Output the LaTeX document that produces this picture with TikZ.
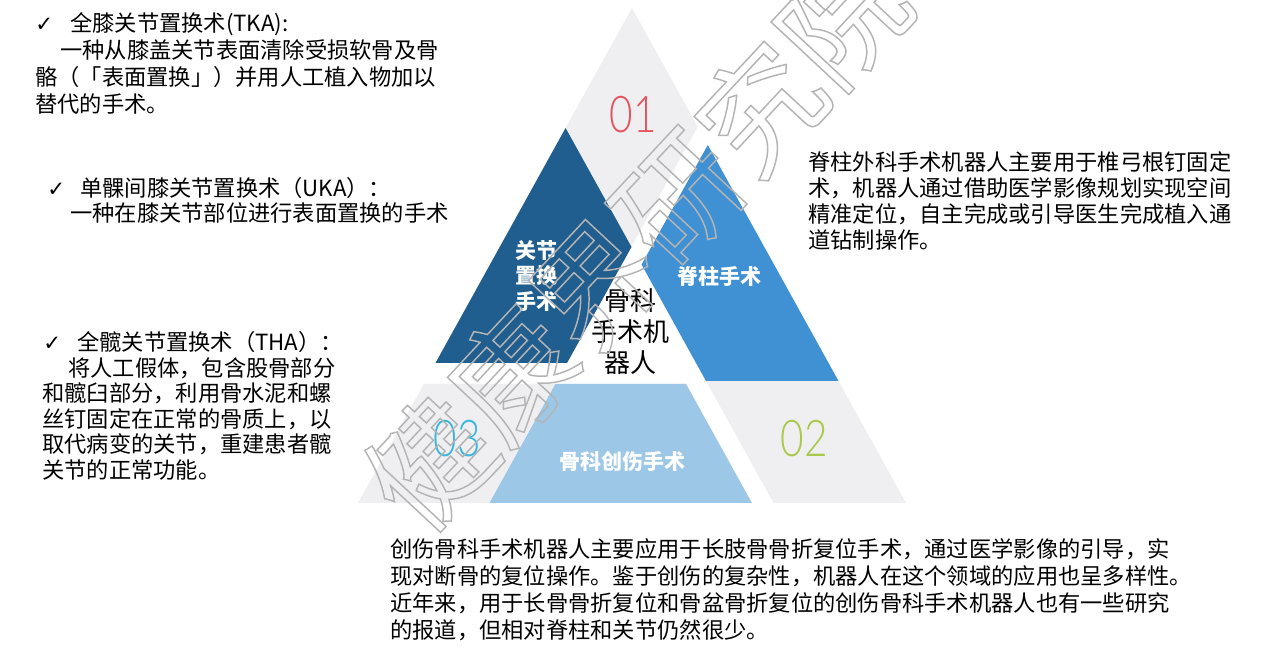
\documentclass[tikz,border=0pt]{standalone}
\usepackage{fontspec}
\setmainfont{Noto Sans CJK SC}
\newfontfamily\chk{DejaVu Sans}
\newfontfamily\numfont[FakeStretch=0.8]{Lato Light}
\definecolor{gbg}{HTML}{EFEFF2}
\definecolor{dkb}{HTML}{1F5E8E}
\definecolor{mdb}{HTML}{3F91D3}
\definecolor{ltb}{HTML}{9DC7E7}
\definecolor{cred}{HTML}{E5535E}
\definecolor{cgrn}{HTML}{A9C94B}
\definecolor{ccyn}{HTML}{38B6DD}
\definecolor{wmk}{HTML}{B4B4B4}
\newcommand{\ck}[1]{\makebox[#1][l]{\chk\fontsize{16pt}{16pt}\selectfont ✓}}
\begin{document}
\begin{tikzpicture}[x=0.75pt,y=-0.75pt,
  txt/.style={anchor=base west,inner sep=0pt,font=\fontsize{16.7pt}{20pt}\selectfont},
  lbl/.style={text=white,align=center,inner sep=0pt,font=\fontsize{15.75pt}{18.5pt}\selectfont\bfseries},
  ctr/.style={text=black,align=center,inner sep=0pt,font=\fontsize{19.5pt}{23.25pt}\selectfont},
  num/.style={inner sep=0pt,font=\numfont\fontsize{38pt}{38pt}\selectfont}]
\useasboundingbox (0,0) rectangle (1268,648);
\fill[white] (0,0) rectangle (1268,648);
% gray regions
\fill[gbg] (632,8) -- (435.5,363) -- (567,363) -- (697.7,126.8) -- cycle;
\fill[gbg] (906,503) -- (707.8,145) -- (641.6,264.6) -- (773.6,503) -- cycle;
\fill[gbg] (358,503) -- (423.9,384) -- (686,384) -- (751.9,503) -- cycle;
% coloured shapes
\fill[dkb] (565.6,128) -- (435.5,363) -- (567,363) -- (631.5,247) -- cycle;
\fill[mdb] (707.8,145) -- (641.6,264.6) -- (706,381) -- (838.5,381) -- cycle;
\fill[ltb] (555.4,384) -- (686,384) -- (751.9,503) -- (489.5,503) -- cycle;
% labels in shapes
\node[lbl,font=\fontsize{15.75pt}{19pt}\selectfont\bfseries] (jt) at (536,276) {关节\\置换\\手术};
\node[lbl] (jz) at (719,276) {脊柱手术};
\node[lbl] (cs) at (622,462) {骨科创伤手术};
\node[ctr] (gk) at (630,332) {骨科\\手术机\\器人};
% numbers
\node[num,text=cred] (n1) at (633,115) {01};
\node[num,text=cgrn] (n2) at (804,439) {02};
\node[num,text=ccyn] (n3) at (457,439) {03};
% TKA
\node[txt] (t1) at (35,31.5) {\ck{26.25pt}全膝关节置换术(TKA):};
\node[txt] (t2) at (60,58.5) {一种从膝盖关节表面清除受损软骨及骨};
\node[txt] (t3) at (35,85.5) {骼（「表面置换」）并用人工植入物加以};
\node[txt] (t4) at (35,112.5) {替代的手术。};
% UKA
\node[txt] (u1) at (47,196.5) {\ck{24.75pt}单髁间膝关节置换术（UKA）：};
\node[txt] (u2) at (70,221.5) {一种在膝关节部位进行表面置换的手术};
% THA
\node[txt] (h1) at (43,350.5) {\ck{25.5pt}全髋关节置换术（THA）：};
\node[txt] (h2) at (68,376.5) {将人工假体，包含股骨部分};
\node[txt] (h3) at (42,401.5) {和髋臼部分，利用骨水泥和螺};
\node[txt] (h4) at (42,427.5) {丝钉固定在正常的骨质上，以};
\node[txt] (h5) at (42,452.5) {取代病变的关节，重建患者髋};
\node[txt] (h6) at (42,478.5) {关节的正常功能。};
% right text
\node[txt] (r1) at (808,170.5) {脊柱外科手术机器人主要用于椎弓根钉固定};
\node[txt] (r2) at (808,196.5) {术，机器人通过借助医学影像规划实现空间};
\node[txt] (r3) at (808,222.5) {精准定位，自主完成或引导医生完成植入通};
\node[txt] (r4) at (808,248.5) {道钻制操作。};
% bottom text
\node[txt] (b1) at (390,557.5) {创伤骨科手术机器人主要应用于长肢骨骨折复位手术，通过医学影像的引导，实};
\node[txt] (b2) at (390,584.5) {现对断骨的复位操作。鉴于创伤的复杂性，机器人在这个领域的应用也呈多样性。};
\node[txt] (b3) at (390,611.5) {近年来，用于长骨骨折复位和骨盆骨折复位的创伤骨科手术机器人也有一些研究};
\node[txt] (b4) at (390,638.5) {的报道，但相对脊柱和关节仍然很少。};
% watermark
\node[rotate=47,text=wmk,inner sep=0pt,font=\fontsize{91pt}{91pt}\selectfont] (wm) at (636,241)
  {\special{pdf:literal 1 Tr 1.1 w}健康界研究院\special{pdf:literal 0 Tr}};
\end{tikzpicture}
\end{document}
